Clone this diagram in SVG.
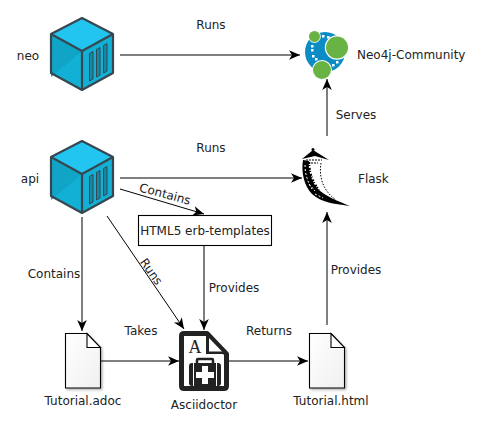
<svg xmlns="http://www.w3.org/2000/svg" width="483" height="429" viewBox="0 0 483 429">
<style>
text{font-family:"DejaVu Sans","Liberation Sans",sans-serif;font-size:12px;fill:#222}
.m{text-anchor:middle}
.c{fill:none;stroke:#000;stroke-width:1}
.doc{fill:url(#g);stroke:#000;stroke-width:1.1}
.fold{fill:#fff;stroke:#000;stroke-width:1.1}
</style>
<defs>
<linearGradient id="g" x1="0" y1="0" x2="1" y2="1"><stop offset="0" stop-color="#fff"/><stop offset="1" stop-color="#f0f0f0"/></linearGradient>
<marker id="a" markerUnits="userSpaceOnUse" markerWidth="14" markerHeight="12" refX="12" refY="6" orient="auto"><path d="M1 1.200L12 6L1 10.800L4 6Z" fill="#000"/></marker>
<filter id="s" x="-20%" y="-20%" width="140%" height="140%"><feDropShadow dx="1.500" dy="1.500" stdDeviation="1" flood-opacity=".3"/></filter>
<g id="cube">
<path d="M82 18L113 34V73L82 90L51 73V34Z" fill="#12b0d4"/>
<path d="M82 18L113 34L82 51L51 34Z" fill="#22c4f0"/>
<path d="M51 34L82 51L51 77Z" fill="#10a4c6"/>
<path d="M82 18L113 34V73L82 90L51 73V34ZM51 34L82 51L113 34M82 51V90" fill="none" stroke="#37474f" stroke-width="2.200" stroke-linejoin="round"/>
<path d="M89.500 53.500L93 51.500V79L89.500 81ZM96.500 49.500L100 47.500V75L96.500 77ZM103.500 45.500L107 43.500V71L103.500 73Z" fill="#1787a3" stroke="#37474f" stroke-width="1"/>
</g>
</defs>
<g id="connectors">
<path class="c" marker-end="url(#a)" d="M120 55H300"/>
<path class="c" marker-end="url(#a)" d="M120 178H302"/>
<path class="c" marker-end="url(#a)" d="M327 136V79"/>
<path class="c" marker-end="url(#a)" d="M120 189L204 214"/>
<path class="c" marker-end="url(#a)" d="M82 217V331"/>
<path class="c" marker-end="url(#a)" d="M107 216L184 329"/>
<path class="c" marker-end="url(#a)" d="M204 245V330"/>
<path class="c" marker-end="url(#a)" d="M101 361H179"/>
<path class="c" marker-end="url(#a)" d="M229 361H308"/>
<path class="c" marker-end="url(#a)" d="M327 325V212"/>
</g>
<g id="neo"><use href="#cube"/><text x="28" y="60" class="m">neo</text></g>
<g id="api"><use href="#cube" y="123"/><text x="30" y="183" class="m">api</text></g>
<g id="neo4j">
<circle cx="325" cy="52" r="20" fill="#0b8cc4"/>
<circle cx="337" cy="47.500" r="12.200" fill="#fff"/>
<circle cx="322" cy="70" r="10" fill="#fff"/>
<circle cx="314.500" cy="36.500" r="6.300" fill="#fff"/>
<circle cx="314.500" cy="36.500" r="5.500" fill="#69b344"/>
<circle cx="337" cy="47.500" r="11" fill="#69b344"/>
<circle cx="322" cy="70" r="9" fill="#69b344"/>
<g fill="#fff"><rect x="322" y="35" width="2.500" height="2.500"/><rect x="327" y="36" width="2.500" height="2.500"/><rect x="311" y="45" width="2.500" height="2.500"/><rect x="311" y="49" width="2.500" height="2.500"/><rect x="312" y="55" width="2.500" height="2.500"/><rect x="315" y="58" width="2.500" height="2.500"/><rect x="336" y="61" width="2.500" height="2.500"/><rect x="332" y="64" width="2.500" height="2.500"/></g>
<text x="357" y="59">Neo4j-Community</text>
</g>
<g id="flask">
<path d="M303 160C301 172 304 186 312 194C322 203 336 204 350 206C338 201 326 197 317 188C311 180 308 170 309 161Z" fill="#000"/>
<path d="M305 165C305 174 308 183 312 189M309 184L315 191M315 194L323 198" fill="none" stroke="#fff" stroke-width="1" stroke-dasharray="2 2"/>
<path d="M309 162C309 172 312 182 319 190" fill="none" stroke="#000" stroke-width="2.500" stroke-dasharray="2 1 1 2"/>
<path d="M302 159L313 150L329 160L315 156Z" fill="#000"/>
<path d="M306 160H322M308 163H318" stroke="#000" stroke-dasharray="2 1"/>
<path d="M321 163C319 176 322 190 336 200" fill="none" stroke="#000" stroke-dasharray="1.500 1.500"/>
<circle cx="313" cy="149.500" r="1.500" fill="#000"/>
<text x="358" y="183">Flask</text>
</g>
<g id="templates"><rect x="138.500" y="215.500" width="133" height="30" fill="#fff" stroke="#000" stroke-width="1.100"/><text x="205" y="235" class="m">HTML5 erb-templates</text></g>
<g id="adoc"><path class="doc" filter="url(#s)" d="M65.500 333.500H87L100.500 348V388H65.500Z"/><path class="fold" d="M87 333.500V347.500H100.500Z"/><text x="83" y="405" class="m">Tutorial.adoc</text></g>
<g id="html"><path class="doc" filter="url(#s)" d="M309.500 333.500H331L344.500 348V388H309.500Z"/><path class="fold" d="M331 333.500V347.500H344.500Z"/><text x="331" y="405" class="m">Tutorial.html</text></g>
<g id="asciidoctor">
<path d="M184 333.500H207L226.500 354V386Q226.500 388.500 224 388.500H184Q181.500 388.500 181.500 386V336Q181.500 333.500 184 333.500Z" fill="#fff" stroke="#222" stroke-width="5" stroke-linejoin="round"/>
<path d="M206 334L226 354H206Z" fill="#222"/><path d="M209 338L222 351.500H209Z" fill="#fff"/>
<path d="M189 366Q189 363 192 363H218Q221 363 221 366V383Q221 386 218 386H192Q189 386 189 383Z" fill="#222"/>
<path d="M193.500 363V386M216.500 363V386" stroke="#fff" stroke-width="1"/>
<path d="M197 363V360Q197 359 198 359H212Q213 359 213 360V363" fill="none" stroke="#222" stroke-width="2.500"/>
<path d="M202 366H208V372H214V378H208V384H202V378H196V372H202Z" fill="#fff"/>
<text x="195" y="353" class="m" style="font-family:'Liberation Serif',serif;font-size:18px;fill:#222">A</text>
<text x="204" y="409" class="m">Asciidoctor</text>
</g>
<g id="labels">
<text x="211" y="29" class="m">Runs</text>
<text x="211" y="152" class="m">Runs</text>
<text x="356" y="119" class="m">Serves</text>
<text x="54" y="278" class="m">Contains</text>
<text x="234" y="292" class="m">Provides</text>
<text x="356" y="274" class="m">Provides</text>
<text x="141" y="335" class="m">Takes</text>
<text x="269" y="335" class="m">Returns</text>
<text x="164" y="198" class="m" transform="rotate(15 164 198)">Contains</text>
<text x="148" y="274" class="m" transform="rotate(55 148 274)">Runs</text>
</g>
</svg>
